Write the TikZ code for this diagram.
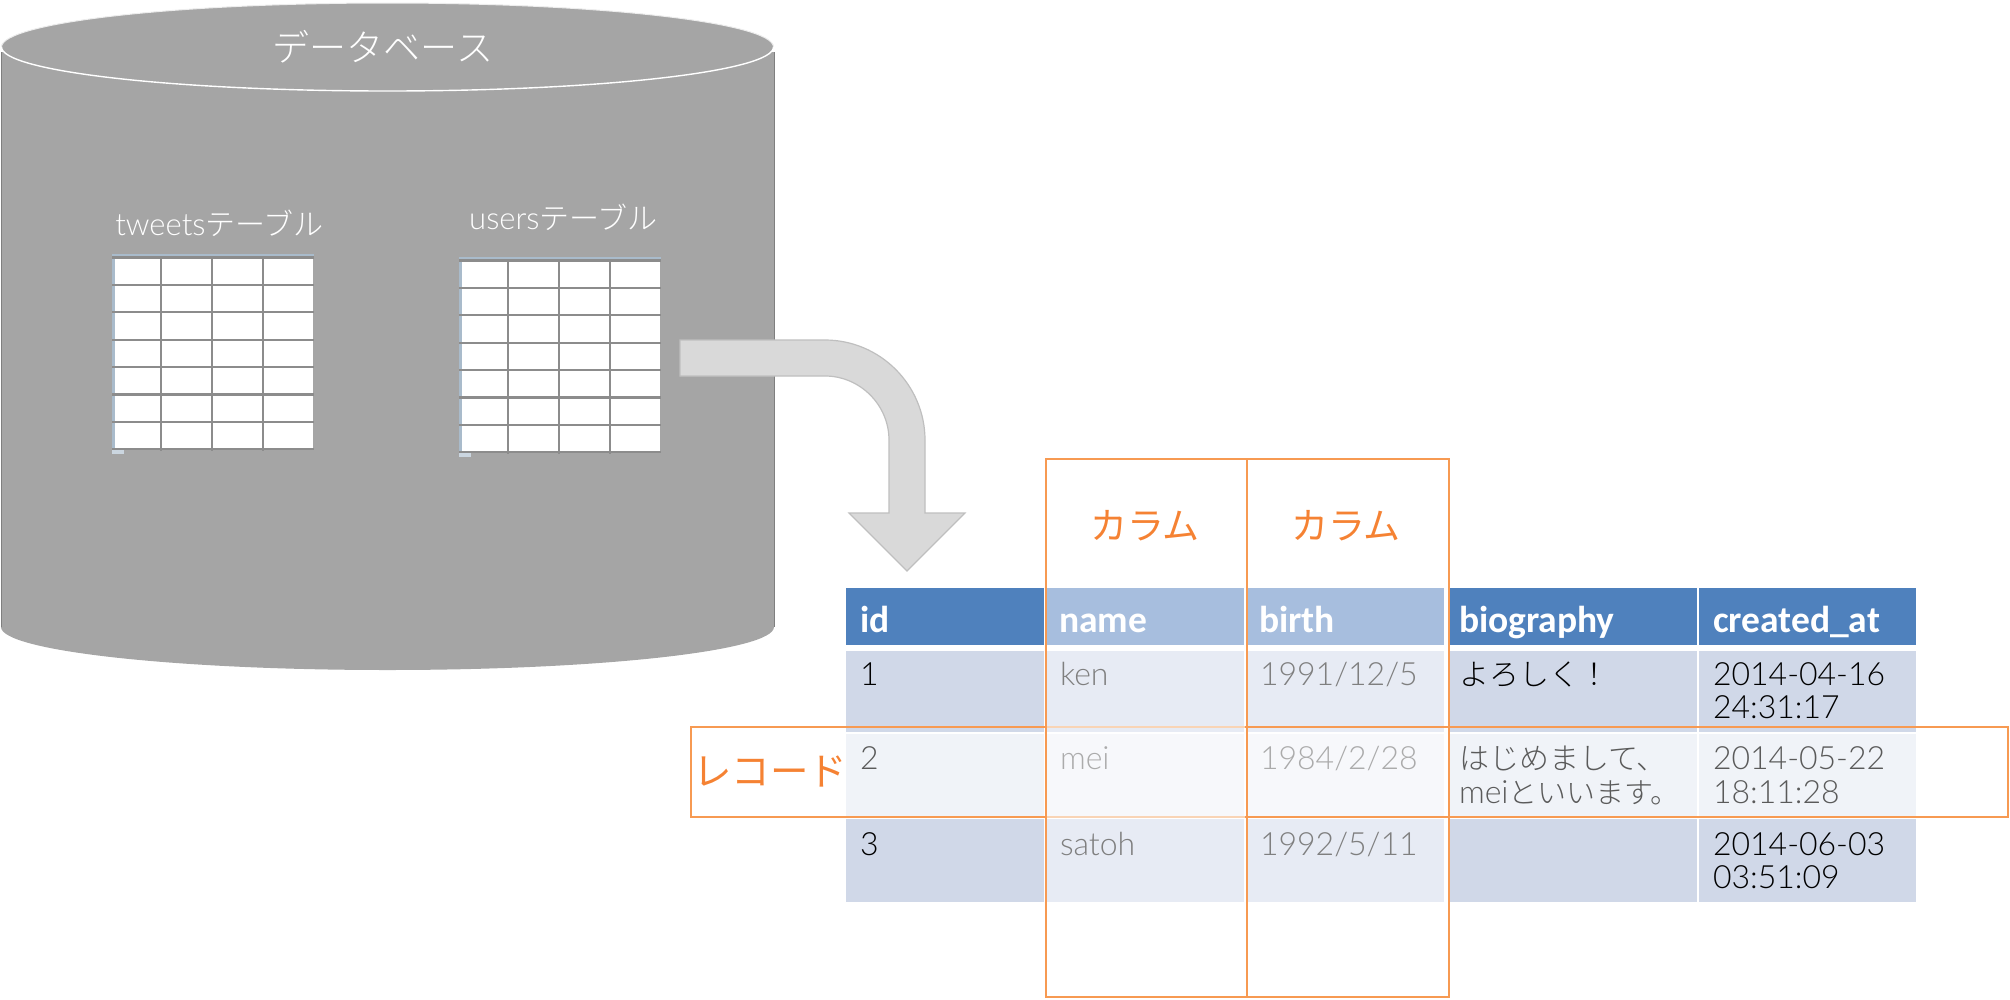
\documentclass[tikz,border=0pt]{standalone}
\usepackage{fontspec}
\setmainfont{Lato Light}
\newfontfamily\jp{Noto Sans CJK JP Light}
\newfontfamily\jpr{Noto Sans CJK JP}
\newfontfamily\hd{Carlito Bold}
\definecolor{dbfill}{HTML}{A5A5A5}
\definecolor{dbedge}{HTML}{7F7F7F}
\definecolor{arrfill}{HTML}{D9D9D9}
\definecolor{arredge}{HTML}{BFBFBF}
\definecolor{hdblue}{HTML}{4F81BD}
\definecolor{hdpale}{HTML}{A7BEDE}
\definecolor{rowa}{HTML}{D0D8E8}
\definecolor{rowb}{HTML}{F0F3F8}
\definecolor{cola}{HTML}{E7EBF4}
\definecolor{colb}{HTML}{F7F8FB}
\definecolor{orangeline}{HTML}{F79A52}
\definecolor{orangepale}{HTML}{F9D4B5}
\definecolor{orangetext}{HTML}{F58233}
\definecolor{gridline}{HTML}{8C8C8C}
\definecolor{tabedge}{HTML}{A9BBCB}
\definecolor{midgrey}{HTML}{7F7F7F}
\definecolor{palegrey}{HTML}{ABABAB}
\definecolor{rowgrey}{HTML}{5A5A5A}
\tikzset{
 lbl/.style={anchor=base west,inner sep=0pt,outer sep=0pt},
 body/.style={lbl,font=\fontsize{32}{35}\selectfont},
 bodyjp/.style={lbl,font=\jp\fontsize{30}{33}\selectfont},
 head/.style={lbl,text=white,font=\hd\fontsize{37.5}{40}\selectfont},
 orangelbl/.style={anchor=center,inner sep=0pt,text=orangetext},
 whitelbl/.style={inner sep=0pt,text=white},
 hline/.style={gridline,line width=2.2pt},
 vline/.style={gridline,line width=1.4pt},
 obox/.style={draw=orangeline,line width=1.8pt},
}
\newcommand{\minitable}[2]{%
 \fill[white] (#1+3,#2+3) rectangle (#1+201,#2+196);
 \fill[tabedge] (#1,#2) rectangle ++(202,3);
 \fill[tabedge] (#1,#2) rectangle ++(3,199);
 \fill[tabedge!60] (#1,#2+196) rectangle ++(12,4);
 \foreach \k in {0,...,7} \draw[hline] (#1,#2+3.5+27.4*\k) -- (#1+202,#2+3.5+27.4*\k);
 \foreach \k in {50,101,152} \draw[vline] (#1+\k-1,#2+2) -- (#1+\k-1,#2+197);
}
\begin{document}
\begin{tikzpicture}[x=1pt,y=-1pt]
\useasboundingbox (0,0) rectangle (2010,999);
% database cylinder
\fill[dbfill] (1,52) -- (1,627)
  arc[start angle=180,end angle=360,x radius=386.5pt,y radius=43pt] -- (774,52) -- cycle;
\draw[dbedge,line width=0.8pt] (1,52) -- (1,627);
\draw[dbedge,line width=0.8pt] (774,52) -- (774,627);
\path[fill=dbfill] (387.5,47) ellipse [x radius=386pt,y radius=44pt];
\draw[white,line width=1.4pt] (1.5,47) arc[start angle=180,end angle=360,x radius=386pt,y radius=44pt];
\draw[white!80!dbfill,line width=1pt] (1.5,47) arc[start angle=180,end angle=0,x radius=386pt,y radius=44pt];
\node[whitelbl,font=\jp\fontsize{37}{40}\selectfont] (dbtitle) at (383,47) {データベース};
% small tables
\minitable{112}{254}
\minitable{459}{257}
\node[whitelbl,font=\fontsize{31}{34}\selectfont] (tweetslbl) at (219.5,223) {tweets{\jp\fontsize{30}{34}\selectfont テーブル}};
\node[whitelbl,font=\fontsize{31}{34}\selectfont] (userslbl) at (563.5,217) {users{\jp\fontsize{30}{34}\selectfont テーブル}};
% block arrow
\path[fill=arrfill,draw=arredge,line width=1.2pt] (680,340) -- (825,340)
  .. controls (880,340) and (925,385) .. (925,440) -- (925,513) -- (965,513) -- (907,571) -- (849,513) -- (889,513) -- (889,440)
  .. controls (889,405) and (860,376) .. (825,376) -- (680,376) -- cycle;
% table cells
\fill[hdblue] (846,588) rectangle (1044,645);
\fill[hdpale] (1047,588) rectangle (1244,645);
\fill[hdpale] (1247,588) rectangle (1444,645);
\fill[hdblue] (1449,588) rectangle (1697,645);
\fill[hdblue] (1699,588) rectangle (1916,645);
\foreach \ya/\yb/\ca/\cb in {651/732/rowa/cola,734/816.5/rowb/colb,819/902/rowa/cola}{
 \fill[\ca] (846,\ya) rectangle (1044,\yb);
 \fill[\cb] (1047,\ya) rectangle (1244,\yb);
 \fill[\cb] (1247,\ya) rectangle (1444,\yb);
 \fill[\ca] (1449,\ya) rectangle (1697,\yb);
 \fill[\ca] (1699,\ya) rectangle (1916,\yb);
}
% header text
\node[head] (hid) at (860,632) {id};
\node[head] (hname) at (1059,632) {name};
\node[head] (hbirth) at (1259,632) {birth};
\node[head] (hbio) at (1459,632) {biography};
\node[head] (hcreated) at (1713,632) {created\_at};
% row 1
\node[body,text=black] (r1id) at (860,685) {1};
\node[body,text=midgrey] (r1name) at (1060,685) {ken};
\node[body,text=midgrey] (r1birth) at (1260,685) {1991/12/5};
\node[bodyjp,text=black] (r1bio) at (1459,685) {よろしく！};
\node[body,text=black] (r1cra) at (1713,685) {2014-04-16};
\node[body,text=black] (r1crb) at (1713,718) {24:31:17};
% row 2
\node[body,text=rowgrey] (r2id) at (860,769) {2};
\node[body,text=palegrey] (r2name) at (1060,769) {mei};
\node[body,text=palegrey] (r2birth) at (1260,769) {1984/2/28};
\node[bodyjp,text=rowgrey] (r2bioa) at (1459,769) {はじめまして、};
\node[body,text=rowgrey] (r2biob) at (1459,803) {mei{\jp\fontsize{29}{33}\selectfont といいます。}};
\node[body,text=rowgrey] (r2cra) at (1713,769) {2014-05-22};
\node[body,text=rowgrey] (r2crb) at (1713,803) {18:11:28};
% row 3
\node[body,text=black] (r3id) at (860,855) {3};
\node[body,text=midgrey] (r3name) at (1060,855) {satoh};
\node[body,text=midgrey] (r3birth) at (1260,855) {1992/5/11};
\node[body,text=black] (r3cra) at (1713,855) {2014-06-03};
\node[body,text=black] (r3crb) at (1713,888) {03:51:09};
% orange frames and labels
\draw[obox] (691,727) rectangle (2008,817);
\draw[orangepale,line width=1.8pt] (1047,727) -- (1245,727);
\draw[orangepale,line width=1.8pt] (1047,817) -- (1245,817);
\draw[obox] (1046,459) rectangle (1247,997);
\draw[obox] (1247,459) rectangle (1449,997);
\node[orangelbl,font=\jpr\fontsize{37}{40}\selectfont] (cola) at (1145,526) {カラム};
\node[orangelbl,font=\jpr\fontsize{37}{40}\selectfont] (colb) at (1346,526) {カラム};
\node[orangelbl,font=\jpr\fontsize{38.5}{40}\selectfont] (rec) at (770,771) {レコード};
\end{tikzpicture}
\end{document}
